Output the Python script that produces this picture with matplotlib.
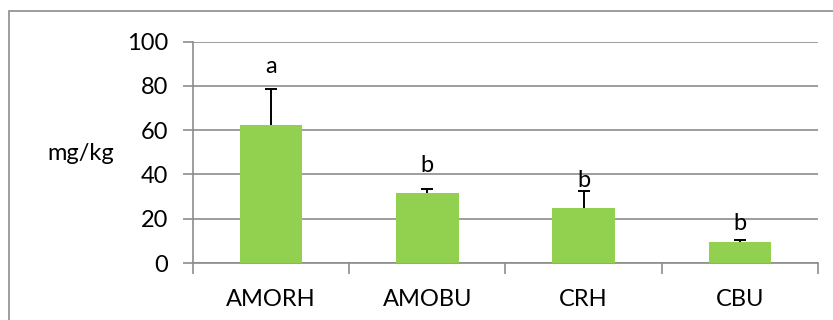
import numpy as np
import matplotlib.pyplot as plt
from matplotlib.patches import Rectangle

plt.rcParams['font.family'] = ['Lato', 'DejaVu Sans']

categories = ['AMORH', 'AMOBU', 'CRH', 'CBU']
means = [62.2, 31.5, 24.8, 9.5]
errors = [16.5, 1.8, 7.7, 0.9]
letters = ['a', 'b', 'b', 'b']
letter_y = [88.6, 43.9, 37.4, 17.8]

fs = 17

fig = plt.figure(figsize=(8.33, 3.2), dpi=100)
# outer chart frame
fig.patches.append(Rectangle((9 / 833, -0.5), 2.0, (320 - 11) / 320 + 0.5,
                             transform=fig.transFigure, fill=False,
                             edgecolor='#8c8c8c', lw=1.2))
ax = fig.add_axes([193 / 833, (320 - 263) / 320, 625 / 833, (263 - 41.5) / 320])

x = np.arange(len(categories))
ax.bar(x, means, width=0.4, color='#92D050', zorder=3)
# upper error bars only
eb = ax.errorbar(x, means, yerr=[np.zeros(len(errors)), errors], fmt='none',
                 ecolor='black', elinewidth=1.4, capsize=4.5, capthick=1.4, zorder=4)
for cap in eb[1]:
    if np.allclose(cap.get_ydata(), means):
        cap.set_visible(False)
for xi, yi, t in zip(x, letter_y, letters):
    ax.text(xi, yi, t, ha='center', va='center', fontsize=fs, zorder=5)

ax.set_xlim(-0.5, len(categories) - 0.5)
ax.set_ylim(0, 100)
ax.set_yticks(np.arange(0, 101, 20))
ax.set_xticks(x)
ax.set_xticklabels(categories)
ax.set_xticks(np.arange(-0.5, len(categories), 1), minor=True)
ax.yaxis.grid(True, color='#8c8c8c', lw=1.2, zorder=0)
for s in ['top', 'right']:
    ax.spines[s].set_visible(False)
for s in ['left', 'bottom']:
    ax.spines[s].set_color('#8c8c8c')
    ax.spines[s].set_linewidth(1.2)
ax.tick_params(axis='y', length=7, width=1.2, color='#8c8c8c', pad=11, labelsize=fs)
ax.tick_params(axis='x', which='major', length=0, pad=19, labelsize=fs)
ax.tick_params(axis='x', which='minor', length=8, width=1.2, color='#8c8c8c')
fig.text(81 / 833, 1 - 153 / 320, 'mg/kg', ha='center', va='center', fontsize=fs)

fig.savefig('out.png', dpi=100)
